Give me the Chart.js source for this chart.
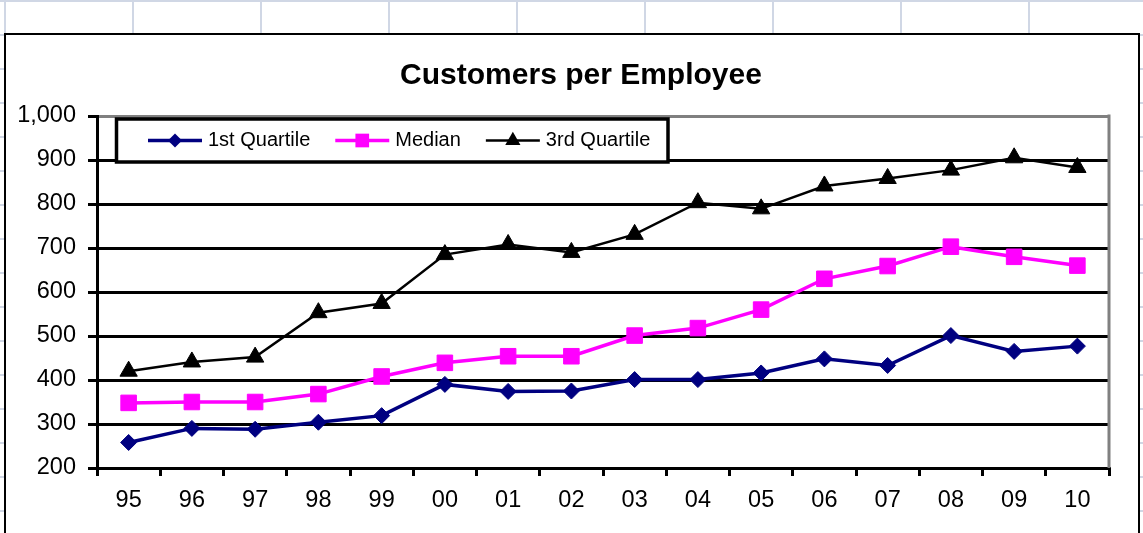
<!DOCTYPE html>
<html lang="en">
<head>
<meta charset="UTF-8">
<title>Customers per Employee</title>
<script src="https://cdn.jsdelivr.net/npm/chart.js"></script>
<style>
    html, body { margin: 0; padding: 0; }
    body {
        width: 1143px; height: 533px; overflow: hidden; position: relative; background: #fff;
        background-image:
            repeating-linear-gradient(to bottom, #d0d7e5 0, #d0d7e5 2px, transparent 2px, transparent 34px),
            repeating-linear-gradient(to right, transparent 0, transparent 4px, #d0d7e5 4px, #d0d7e5 6px, transparent 6px, transparent 128px);
    }
    #box { position: absolute; left: 4px; top: 33px; width: 1132px; height: 560px; border: 2px solid #000; background: #fff; }
    #wrap { position: absolute; left: 0; top: 0; width: 1143px; height: 533px; }
</style>
</head>
<body>
<div id="box"></div>
<div id="wrap"><canvas id="chart"></canvas></div>

<script>
const years = ['95', '96', '97', '98', '99', '00', '01', '02', '03', '04', '05', '06', '07', '08', '09', '10'];
const firstQuartile = [258, 290, 288, 304, 319, 390, 374, 375, 401, 401, 416, 448, 433, 501, 465, 477];
const median = [348, 350, 350, 368, 408, 439, 454, 454, 501, 518, 560, 630, 659, 703, 680, 660];
const thirdQuartile = [420, 441, 452, 553, 574, 685, 708, 690, 731, 803, 789, 841, 858, 877, 905, 883];
const yMin = 200, yMax = 1000, yStep = 100;
const chartTitle = 'Customers per Employee';

const FONT = "'Liberation Sans', Arial, sans-serif";

function drawMarker(ctx, style, x, y, r, color) {
    ctx.fillStyle = color;
    ctx.beginPath();
    if (style === 'rectRot') {
        ctx.moveTo(x - r, y); ctx.lineTo(x, y - r); ctx.lineTo(x + r, y); ctx.lineTo(x, y + r);
    } else if (style === 'rect') {
        const s = r * Math.SQRT1_2;
        ctx.rect(x - s, y - s, 2 * s, 2 * s);
    } else {
        ctx.moveTo(x, y - r); ctx.lineTo(x + r * 0.866, y + r / 2); ctx.lineTo(x - r * 0.866, y + r / 2);
    }
    ctx.closePath();
    ctx.fill();
}

// title centred on the outer chart box (not on the plot area)
const boxTitle = {
    id: 'boxTitle',
    afterDraw(chart) {
        const ctx = chart.ctx;
        ctx.save();
        ctx.font = 'bold 30px ' + FONT;
        ctx.fillStyle = '#000';
        ctx.textAlign = 'center';
        ctx.textBaseline = 'middle';
        ctx.fillText(chartTitle, 581, 76);
        ctx.restore();
    }
};

// gray frame on the right side of the plot area
const frame = {
    id: 'frame',
    beforeDatasetsDraw(chart) {
        const a = chart.chartArea, ctx = chart.ctx;
        ctx.save();
        ctx.strokeStyle = '#808080';
        ctx.lineWidth = 3;
        ctx.beginPath();
        ctx.moveTo(a.right, a.top - 1.5);
        ctx.lineTo(a.right, a.bottom);
        ctx.stroke();
        ctx.restore();
    }
};

// boxed legend sitting inside the plot area
const boxLegend = {
    id: 'boxLegend',
    afterDatasetsDraw(chart) {
        const a = chart.chartArea, ctx = chart.ctx;
        const x0 = a.left + 19.5, y0 = a.top + 3, w = 551.5, h = 43;
        ctx.save();
        ctx.fillStyle = '#fff';
        ctx.fillRect(x0, y0, w, h);
        ctx.lineWidth = 3.5;
        ctx.strokeStyle = '#000';
        ctx.strokeRect(x0, y0, w, h);
        ctx.font = '20px ' + FONT;
        ctx.textBaseline = 'middle';
        let x = x0 + 31.5;
        const y = y0 + h / 2;
        chart.data.datasets.forEach(ds => {
            ctx.strokeStyle = ds.borderColor;
            ctx.lineWidth = ds.borderWidth;
            ctx.beginPath();
            ctx.moveTo(x, y);
            ctx.lineTo(x + 54, y);
            ctx.stroke();
            drawMarker(ctx, ds.pointStyle, x + 27, y, ds.pointRadius * 0.88, ds.borderColor);
            ctx.fillStyle = '#000';
            ctx.fillText(ds.label, x + 60, y);
            x += 60 + ctx.measureText(ds.label).width + 25;
        });
        ctx.restore();
    }
};

const series = (label, data, color, width, style, radius) => ({
    label, data,
    borderColor: color, backgroundColor: color, borderWidth: width,
    pointStyle: style, pointRadius: radius, pointHoverRadius: radius,
    pointBackgroundColor: color, pointBorderColor: color, pointBorderWidth: 1,
    tension: 0, clip: false
});

new Chart(document.getElementById('chart'), {
    type: 'line',
    data: {
        labels: years,
        datasets: [
            series('1st Quartile', firstQuartile, '#000080', 3.5, 'rectRot', 8),
            series('Median', median, '#ff00ff', 3.5, 'rect', 11),
            series('3rd Quartile', thirdQuartile, '#000000', 2.5, 'triangle', 10)
        ]
    },
    options: {
        responsive: true,
        maintainAspectRatio: false,
        animation: false,
        events: [],
        layout: { padding: { left: 0, right: 34, top: 116, bottom: 0 } },
        plugins: {
            legend: { display: false },
            tooltip: { enabled: false },
            title: { display: false }
        },
        scales: {
            x: {
                offset: true,
                afterFit: s => { s.height = 65; },
                grid: { offset: true, drawOnChartArea: false, drawTicks: true, tickLength: 8, color: '#000', lineWidth: 3 },
                border: { display: true, color: '#000', width: 3 },
                ticks: { color: '#000', font: { family: FONT, size: 23.5 }, padding: 10, maxRotation: 0, autoSkip: false }
            },
            y: {
                min: yMin, max: yMax,
                afterFit: s => { s.width = 97; },
                grid: {
                    color: c => (c.tick && c.tick.value === yMax) ? '#808080' : '#000',
                    tickColor: '#000',
                    lineWidth: 3,
                    tickLength: 9
                },
                border: { display: true, color: '#000', width: 3 },
                ticks: {
                    stepSize: yStep,
                    color: '#000',
                    padding: 12,
                    font: { family: FONT, size: 23.5 },
                    callback: v => v.toLocaleString('en-US')
                }
            }
        }
    },
    plugins: [frame, boxLegend, boxTitle]
});
</script>
</body>
</html>
